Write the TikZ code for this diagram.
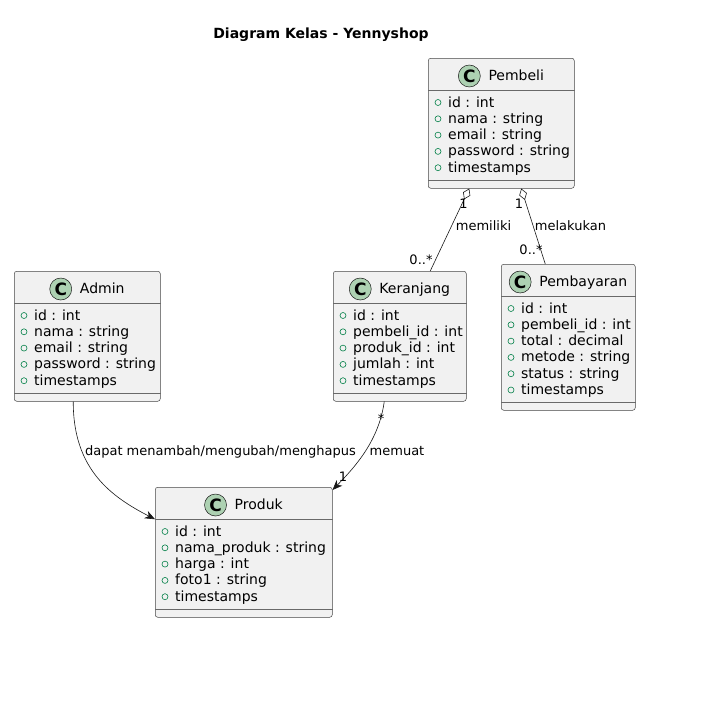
\documentclass[tikz,border=0pt]{standalone}
\usepackage{fontspec}
\setmainfont{DejaVu Sans}
\usetikzlibrary{positioning,arrows.meta}
\definecolor{ClassFill}{HTML}{F1F1F1}
\definecolor{ClassLine}{HTML}{181818}
\definecolor{BadgeGreen}{HTML}{ADD1B2}
\definecolor{PublicGreen}{HTML}{038048}

% #1 node name, #2 title, #3 top left corner, #4 width, #5 height, #6 attributes
\newcommand{\umlclass}[6]{%
  \node[classbox, minimum width=#4, minimum height=#5] (#1) at (#3) {};
  \draw[divider] ([yshift=-32pt]#1.north west) -- ([yshift=-32pt]#1.north east);
  \draw[divider] ([yshift=8pt]#1.south west) -- ([yshift=8pt]#1.south east);
  \node[classname] (#1-name) at ([xshift=15pt, yshift=-22pt]#1.north) {#2};
  \node[badge] (#1-c) at ([xshift=-19pt, yshift=4pt]#1-name.base west) {C};
  \foreach \attr [count=\i] in {#6} {
    \node[attr] (#1-a\i) at ([xshift=20pt, yshift={-49pt-16.3pt*(\i-1)}]#1.north west) {\attr};
    \draw[vis] ([xshift=-10pt, yshift=4.5pt]#1-a\i.base west) circle (3pt);
  }%
}

\begin{document}
\begin{tikzpicture}[
      x=1pt, y=-1pt,
      classbox/.style={draw=ClassLine!80, fill=ClassFill, rounded corners=2.5pt, anchor=north west, inner sep=0pt, line width=0.5pt},
      divider/.style={draw=ClassLine!65, line width=0.45pt},
      classname/.style={anchor=base, inner sep=0pt, font=\fontsize{14}{16}\selectfont},
      badge/.style={circle, draw=ClassLine, fill=BadgeGreen, minimum size=22pt, inner sep=0pt, line width=0.5pt, font=\fontsize{17}{17}\selectfont\bfseries},
      attr/.style={anchor=base west, inner sep=0pt, font=\fontsize{14}{16}\selectfont},
      vis/.style={draw=PublicGreen, line width=0.6pt},
      link/.style={draw=ClassLine, line width=0.6pt},
      aggr/.style={link, {Diamond[open, length=12pt, width=8pt]}-},
      assoc/.style={link, -{Stealth[length=10pt, width=8pt, inset=3pt]}},
      mult/.style={anchor=base, inner sep=0pt, font=\fontsize{13}{15}\selectfont}
    ]
      \useasboundingbox (0,0) rectangle (723,705);
      \node[anchor=base, font=\fontsize{14}{16}\selectfont\bfseries] (title) at (321,38) {Diagram Kelas - Yennyshop};

      % Classes
      \umlclass{pembeli}{Pembeli}{428,58}{146pt}{130pt}{id : int, nama : string, email : string, password : string, timestamps}
      \umlclass{admin}{Admin}{14,271}{146pt}{130pt}{id : int, nama : string, email : string, password : string, timestamps}
      \umlclass{keranjang}{Keranjang}{333,271}{133pt}{130pt}{id : int, pembeli\_id : int, produk\_id : int, jumlah : int, timestamps}
      \umlclass{pembayaran}{Pembayaran}{501,264}{134pt}{146pt}{id : int, pembeli\_id : int, total : decimal, metode : string, status : string, timestamps}
      \umlclass{produk}{Produk}{155,487}{177pt}{130pt}{id : int, nama\_produk : string, harga : int, foto1 : string, timestamps}

      % Relations
      \draw[aggr] ([xshift=-32pt]pembeli.south) -- ([xshift=30.5pt]keranjang.north);
      \draw[aggr] ([xshift=20pt]pembeli.south) -- ([xshift=-23pt]pembayaran.north);
      \draw[assoc] ([xshift=-14pt]admin.south) .. controls (73,470) and (112,497) .. ([yshift=33pt]produk.west);
      \draw[assoc] ([xshift=-15.5pt]keranjang.south) .. controls (379,440) and (356,466) .. ([yshift=-3pt]produk.north east);

      % Labels
      \node[mult] (m-pk1) at (463.5,208) {1};
      \node[mult] (m-pk2) at (421,264) {0..*};
      \node[mult] (l-pk) at (483.5,230) {memiliki};
      \node[mult] (m-pb1) at (519,208) {1};
      \node[mult] (m-pb2) at (531,254) {0..*};
      \node[mult] (l-pb) at (570.5,230) {melakukan};
      \node[mult] (l-ap) at (220.5,455) {dapat menambah/mengubah/menghapus};
      \node[mult] (m-kp1) at (381,423) {*};
      \node[mult] (m-kp2) at (343,481) {1};
      \node[mult] (l-kp) at (397,455) {memuat};
    \end{tikzpicture}
\end{document}
